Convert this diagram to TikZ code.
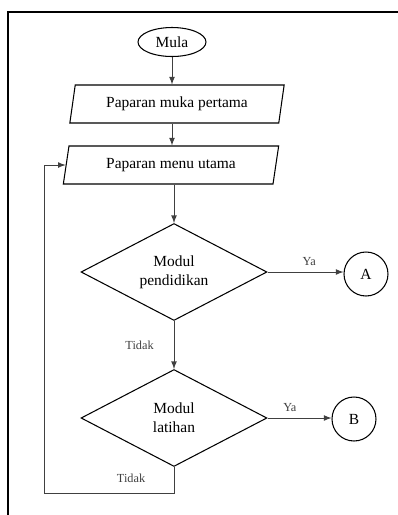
\documentclass[tikz,border=0pt]{standalone}
\usepackage{fontspec}
\setmainfont{Liberation Serif}
\usetikzlibrary{arrows,shapes.geometric}

\begin{document}
\begin{tikzpicture}[x=0.02cm,y=-0.02cm,
		box/.style={draw,line width=0.6pt,font=\fontsize{8.8}{11}\selectfont,align=center},
		paper/.style={box,trapezium,trapezium left angle=75,trapezium right angle=105,
			trapezium stretches=true,minimum width=4.32cm,minimum height=0.76cm,inner sep=0pt},
		choice/.style={box,diamond,shape aspect=2,minimum width=3.72cm,minimum height=1.94cm,inner sep=1pt},
		joint/.style={box,circle,minimum size=0.88cm,inner sep=0pt},
		flow/.style={->,>=latex,black!75,line width=0.5pt},
		tag/.style={font=\fontsize{7}{8}\selectfont}]
			\useasboundingbox (0,0) rectangle (398,515);

			% frame
			\draw[line width=0.9pt] (8,515) -- (8,12) -- (398,12);

			\node[box,ellipse,minimum width=1.36cm,minimum height=0.58cm,inner sep=0pt] (mula) at (172,42) {Mula};
			\node[paper] (p1) at (177,104) {Paparan muka pertama};
			\node[paper] (p2) at (171,165) {Paparan menu utama};

			\node[choice] (d1) at (174,272) {Modul\\pendidikan};
			\node[choice] (d2) at (174,418) {Modul\\latihan};

			\node[joint] (A) at (366,274) {A};
			\node[joint] (B) at (354,419) {B};

			\coordinate (back) at (44,493);

			\draw[flow] (mula) -- (mula |- p1.north);
			\draw[flow] (p1.south -| mula) -- (mula |- p2.north);
			\draw[flow] (p2.south -| d1) -- (d1.north);

			\draw[flow] (d1.east) -- node[tag,above,pos=0.55]{Ya} (d1.east -| A.west);
			\draw[flow] (d1.south) -- node[tag,left=0.28cm]{Tidak} (d2.north);

			\draw[flow] (d2.east) -- node[tag,above,pos=0.35]{Ya} (d2.east -| B.west);
			\draw[flow] (d2.south) -- node[tag,left=0.45cm,pos=0.45]{Tidak} (d2.south |- back) -- (back) |- (p2.west);
		\end{tikzpicture}
\end{document}
